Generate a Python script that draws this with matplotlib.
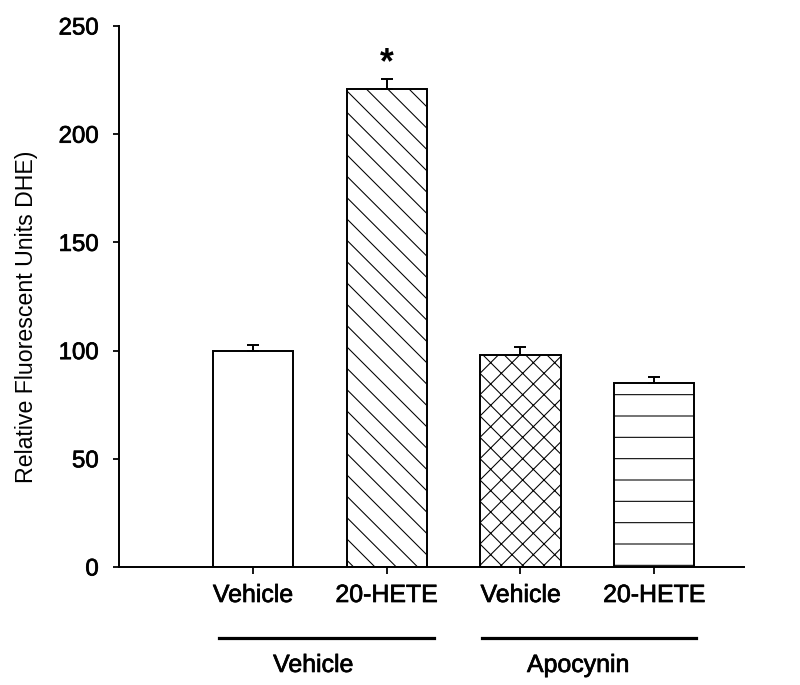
import matplotlib
matplotlib.use("Agg")
import matplotlib.pyplot as plt
import matplotlib.patheffects as pe

plt.rcParams['font.family'] = ['Liberation Sans', 'DejaVu Sans']
plt.rcParams['hatch.linewidth'] = 0.6

# data
treatments = ["Vehicle", "20-HETE", "Vehicle", "20-HETE"]
groups = ["Vehicle", "Apocynin"]
values = [100, 221, 98, 85]
errors = [2.7, 4.6, 3.7, 2.8]
hatches = ['', '\\\\', 'xx', '-']
pos = [1, 2, 3, 4]

heavy = [pe.withStroke(linewidth=0.4, foreground='black')]

DPI = 128
fig = plt.figure(figsize=(800 / DPI, 685 / DPI), dpi=DPI)
ax = fig.add_axes([119 / 800, 1 - 567 / 685, (744 - 119) / 800, (567 - 26) / 685])

for p, v, e, h in zip(pos, values, errors, hatches):
    ax.bar(p, v, width=0.6, color='white', edgecolor='black', linewidth=1.1,
           hatch=h, zorder=2)
    ax.errorbar(p, v, yerr=[[0], [e]], fmt='none', ecolor='black',
                elinewidth=1.1, capsize=3.6, capthick=1.1, zorder=3)

# significance star
ax.text(pos[1], values[1] + errors[1] - 1, '*', ha='center', va='bottom',
        fontsize=20, fontweight='bold')

ax.set_xlim(0, 4.67)
ax.set_ylim(0, 250)
ax.set_yticks([0, 50, 100, 150, 200, 250])
ax.set_xticks(pos)
ax.set_xticklabels(treatments, fontsize=14)
ax.tick_params(axis='y', labelsize=13.5, width=1, length=3.4, pad=8)
ax.tick_params(axis='x', width=1, length=4, pad=5)
for lab in ax.get_xticklabels() + ax.get_yticklabels():
    lab.set_path_effects(heavy)
for sp in ['left', 'bottom']:
    ax.spines[sp].set_linewidth(1.1)
ax.spines['top'].set_visible(False)
ax.spines['right'].set_visible(False)
ax.set_ylabel('Relative Fluorescent Units DHE)', fontsize=13)
ax.yaxis.set_label_coords((38 - 119) / 625, 0.462)

# group lines and labels below the axis
trans = ax.get_xaxis_transform()
group_spans = [(0.747, 2.355), (2.713, 4.314)]
group_x = [1.45, 3.43]
for (x0, x1), gx, g in zip(group_spans, group_x, groups):
    ax.plot([x0, x1], [-0.131, -0.131], color='black', lw=1.8,
            transform=trans, clip_on=False)
    ax.text(gx, -0.194, g, transform=trans, ha='center',
            va='baseline', fontsize=14, path_effects=heavy)

fig.savefig('out.png', dpi=DPI)
